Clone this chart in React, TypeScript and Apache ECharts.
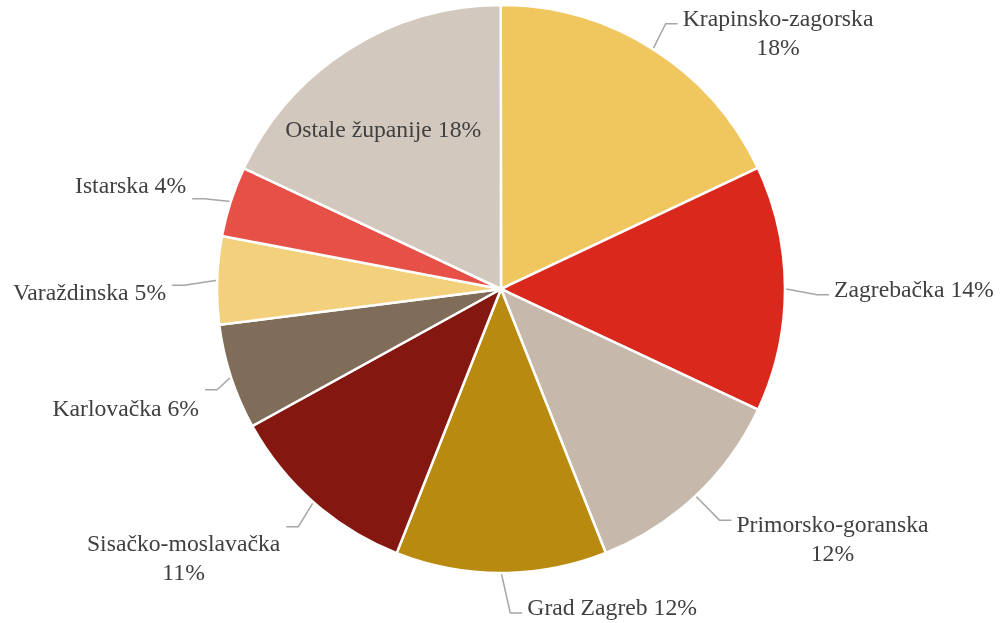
import React, { useEffect, useRef } from "react";
import * as echarts from "echarts";

// Data
const regions = [
  "Krapinsko-zagorska",
  "Zagrebačka",
  "Primorsko-goranska",
  "Grad Zagreb",
  "Sisačko-moslavačka",
  "Karlovačka",
  "Varaždinska",
  "Istarska",
  "Ostale županije",
];
const shares = [18, 14, 12, 12, 11, 6, 5, 4, 18];

// Styling (not data)
const colors = ["#F0C65E", "#DA291C", "#C6B9AC", "#B98A10", "#841811", "#7F6C59", "#F3D07C", "#E65046", "#D3C8BD"];
const twoLine = [true, false, true, false, true, false, false, false, false];
const lineLen = [20, 30, 45, 34, 44, 22, 32, 28, 0];
const lineLen2 = [15, 14, 8, 19, 2, 4, 12, 12, 0];
const labelDist = [4, 5, 2, 7, 2, 7, 7, 6, 0];
const labelPad: number[][] = [[0, 0, 0, 0], [0, 0, 0, 0], [19, 0, 0, 0], [0, 0, 0, 0], [45, 0, 0, 0], [48, 0, 0, 0], [26, 0, 0, 0], [0, 0, 16, 0], [0, 80, 76, 0]];

const FONT = "Liberation Serif";
const FS = 23.7;
const LH = 29;
const TXT = "#404040";

export default function App() {
  const ref = useRef<HTMLDivElement>(null);
  useEffect(() => {
    if (!ref.current) return;
    const chart = echarts.init(ref.current, null, { renderer: "svg" });
    const data = regions.map((name, i) => {
      const inside = i === regions.length - 1;
      const text = twoLine[i] ? `{c|${name}}\n{c|${shares[i]}%}` : `${name} ${shares[i]}%`;
      return {
        name,
        value: shares[i],
        itemStyle: { color: colors[i] },
        label: { position: inside ? "inside" : "outside", formatter: text, distanceToLabelLine: labelDist[i], padding: labelPad[i] },
        labelLine: { show: !inside, length: lineLen[i], length2: lineLen2[i] },
      };
    });
    try {
      chart.setOption({
        animation: false,
        series: [
          {
            type: "pie",
            center: [501, 289],
            radius: 284,
            startAngle: 90.05,
            clockwise: true,
            avoidLabelOverlap: false,
            emphasis: { disabled: true },
            itemStyle: { borderColor: "#ffffff", borderWidth: 2.5 },
            label: {
              show: true, overflow: "none", bleedMargin: 0, fontFamily: FONT, fontSize: FS, color: TXT, lineHeight: LH,
              rich: { c: { align: "center", fontFamily: FONT, fontSize: FS, color: TXT, lineHeight: LH } },
            },
            labelLine: { show: true, smooth: false, lineStyle: { color: "#A6A6A6", width: 1.5 } },
            labelLayout: (p: any) => {
              try {
                const i = p.dataIndex;
                if (i === regions.length - 1 || !p.labelLinePoints) return {};
                const r = p.labelRect;
                const n = twoLine[i] ? 2 : 1;
                const h = r.height - (n - 1) * LH;
                const firstCenter = r.y + h / 2;
                const leftSide = p.align === "right";
                const endX = leftSide ? r.x + r.width + 6 : r.x - 5;
                const endY = firstCenter + 6;
                const elbowX = leftSide ? endX + 12 : endX - 12;
                const start = p.labelLinePoints[0];
                return { labelLinePoints: [[start[0], start[1]], [elbowX, endY], [endX, endY]] };
              } catch (e) {
                return {};
              }
            },
            data,
          },
        ],
      });
    } catch (e) {
      // ignore
    }
    return () => chart.dispose();
  }, []);
  return (
    <div>
      <div ref={ref} style={{ position: "fixed", left: 0, top: 0, width: 1000, height: 623 }} />
    </div>
  );
}
